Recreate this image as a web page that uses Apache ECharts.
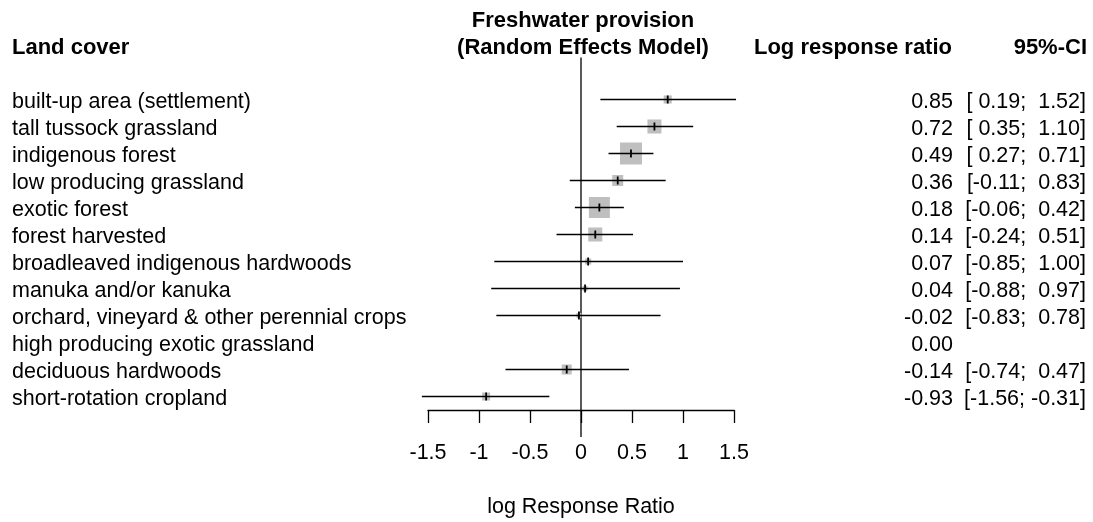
<!DOCTYPE html>
<html>
<head>
<meta charset="utf-8">
<script src="https://cdn.jsdelivr.net/npm/echarts@6/dist/echarts.min.js"></script>
<style>html,body{margin:0;padding:0;background:#fff;}#c{width:1093px;height:522px;}</style>
</head>
<body>
<div id="c"></div>
<script>
const landCover = [
  'built-up area (settlement)',
  'tall tussock grassland',
  'indigenous forest',
  'low producing grassland',
  'exotic forest',
  'forest harvested',
  'broadleaved indigenous hardwoods',
  'manuka and/or kanuka',
  'orchard, vineyard & other perennial crops',
  'high producing exotic grassland',
  'deciduous hardwoods',
  'short-rotation cropland'
];
const estimate = [0.85, 0.72, 0.49, 0.36, 0.18, 0.14, 0.07, 0.04, -0.02, 0.00, -0.14, -0.93];
const lower    = [0.19, 0.35, 0.27, -0.11, -0.06, -0.24, -0.85, -0.88, -0.83, null, -0.74, -1.56];
const upper    = [1.52, 1.10, 0.71, 0.83, 0.42, 0.51, 1.00, 0.97, 0.78, null, 0.47, -0.31];
const weight   = [3.7, 11.2, 27.6, 6.9, 25.2, 11.2, 2.1, 1.4, 1.4, 0, 5.7, 3.7];
const xTicks   = [-1.5, -1, -0.5, 0, 0.5, 1, 1.5];

const FONT = '"Liberation Sans", Arial, sans-serif';
const FS = 21.5;
const maxW = Math.max.apply(null, weight);

function f2(v) { return v.toFixed(2); }
function pad5(v) { const s = f2(v); return s.length < 5 ? ' ' + s : s; }
const valText = estimate.map(f2);
const ciText = lower.map((l, i) => l === null ? '' : '[' + pad5(l) + '; ' + pad5(upper[i]) + ']');

const chart = echarts.init(document.getElementById('c'), null, {renderer: 'canvas'});

const forestData = landCover.map((c, i) => [estimate[i], i, lower[i], upper[i], weight[i]]);

const catAxisBase = {
  type: 'category', inverse: true,
  axisLine: {show: false}, axisTick: {show: false}, splitLine: {show: false}
};
const lblBase = {
  interval: 0, fontFamily: FONT, fontSize: FS, color: '#000',
  formatter: v => '{t|' + v + '}',
  rich: {t: {fontFamily: FONT, fontSize: FS, color: '#000', padding: [5, 0, 0, 0]}}
};

chart.setOption({
  animation: false,
  backgroundColor: '#fff',
  grid: {left: 428, right: 359, top: 86, bottom: 112, containLabel: false, outerBoundsMode: 'none'},
  xAxis: {
    type: 'value', min: -1.5, max: 1.5, interval: 0.5,
    name: 'log Response Ratio', nameLocation: 'middle', nameGap: 86,
    nameTextStyle: {fontFamily: FONT, fontSize: FS, color: '#000'},
    axisLine: {show: true, lineStyle: {color: '#000', width: 1.3}},
    axisTick: {show: true, length: 13, lineStyle: {color: '#000', width: 1.3}},
    axisLabel: {margin: 32, fontFamily: FONT, fontSize: FS, color: '#000',
      formatter: v => String(v)},
    splitLine: {show: false}
  },
  yAxis: [
    Object.assign({}, catAxisBase, {
      data: landCover, position: 'left',
      axisLabel: Object.assign({}, lblBase, {align: 'left', margin: 416})
    }),
    Object.assign({}, catAxisBase, {
      data: valText, position: 'right',
      axisLabel: Object.assign({}, lblBase, {align: 'right', margin: 219})
    }),
    Object.assign({}, catAxisBase, {
      data: ciText, position: 'right',
      axisLabel: Object.assign({}, lblBase, {align: 'right', margin: 352})
    })
  ],
  title: [
    {text: 'Freshwater provision\n(Random Effects Model)', left: 583, top: 7, padding: 0, textAlign: 'center',
     textStyle: {fontFamily: FONT, fontSize: 22, fontWeight: 'bold', color: '#000', lineHeight: 27}},
    {text: 'Land cover', left: 12, top: 37, padding: 0,
     textStyle: {fontFamily: FONT, fontSize: 22, fontWeight: 'bold', color: '#000'}},
    {text: 'Log response ratio', left: 952, top: 37, padding: 0, textAlign: 'right',
     textStyle: {fontFamily: FONT, fontSize: 22, fontWeight: 'bold', color: '#000'}},
    {text: '95%-CI', left: 1087, top: 37, padding: 0, textAlign: 'right',
     textStyle: {fontFamily: FONT, fontSize: 22, fontWeight: 'bold', color: '#000'}}
  ],
  series: [
    {
      type: 'custom', name: 'ref', silent: true, clip: false, z: 1,
      data: [[0, 0]],
      renderItem: function (params, api) {
        const x = api.coord([0, 0])[0];
        const top = api.coord([0, 0])[1] - 42;
        const bot = params.coordSys.y + params.coordSys.height + 27;
        return {type: 'line', shape: {x1: x, y1: top, x2: x, y2: bot},
          style: {stroke: '#000', lineWidth: 1.3}};
      }
    },
    {
      type: 'custom', name: 'forest', silent: true, clip: false, z: 2,
      data: forestData,
      renderItem: function (params, api) {
        const est = api.value(0), row = api.value(1), lo = api.value(2), hi = api.value(3), w = api.value(4);
        if (lo === null || isNaN(lo) || !w) return {type: 'group', children: []};
        const p = api.coord([est, row]);
        const pl = api.coord([lo, row]);
        const ph = api.coord([hi, row]);
        const s = 22 * Math.sqrt(w / maxW);
        return {type: 'group', children: [
          {type: 'rect', shape: {x: p[0] - s / 2, y: p[1] - s / 2, width: s, height: s},
           style: {fill: '#bfbfbf'}},
          {type: 'line', shape: {x1: pl[0], y1: p[1], x2: ph[0], y2: p[1]},
           style: {stroke: '#000', lineWidth: 1.3}},
          {type: 'line', shape: {x1: p[0], y1: p[1] - 4, x2: p[0], y2: p[1] + 4},
           style: {stroke: '#000', lineWidth: 1.8}}
        ]};
      }
    }
  ]
});
</script>
</body>
</html>
